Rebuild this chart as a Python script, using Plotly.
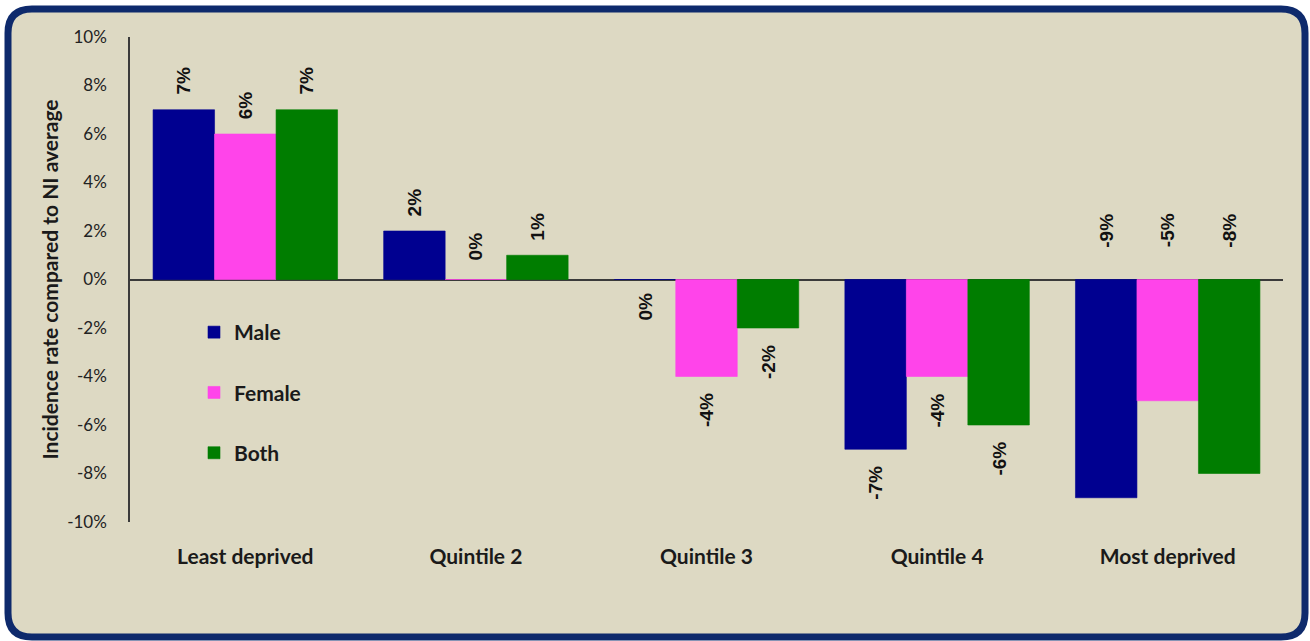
import plotly.graph_objects as go

# Incidence rate relative to the NI average, by deprivation quintile (%)
categories = ["Least deprived", "Quintile 2", "Quintile 3", "Quintile 4", "Most deprived"]
male = [7, 2, 0, -7, -9]
female = [6, 0, -4, -4, -5]
both = [7, 1, -2, -6, -8]
series_names = ["Male", "Female", "Both"]
series_colors = ["#000090", "#FF44EA", "#007D00"]
y_ticks = [-10, -8, -6, -4, -2, 0, 2, 4, 6, 8, 10]
y_tick_text = [f"{v}%" for v in y_ticks]

W, H = 1310, 641
M_L, M_R, M_T, M_B = 130, 27, 37, 119
PLOT_W, PLOT_H = W - M_L - M_R, H - M_T - M_B
Y_MIN, Y_MAX = -10, 10
BARGAP = 0.2
BG = "#DDD9C3"
BORDER = "#0E2A6C"
TEXT = "#1a1a1a"

series = [male, female, both]
n_series = len(series)
bar_w = (1 - BARGAP) / n_series
x_idx = list(range(len(categories)))

fig = go.Figure()
for name, vals, col in zip(series_names, series, series_colors):
    fig.add_trace(go.Bar(
        x=x_idx, y=vals, name=name, legendgroup=name,
        marker=dict(color=col, line=dict(color=col, width=0.6)),
        hoverinfo="skip",
    ))

# Rotated value labels: outside the bar end; when a group's labels cannot fit
# under its bars, the whole group is labelled above the zero line instead.
px_per_unit = PLOT_H / (Y_MAX - Y_MIN)
label_span = 52 / px_per_unit
annotations = []
for ci in x_idx:
    group = [s[ci] for s in series]
    lift = any(v < 0 and v - label_span < Y_MIN for v in group)
    direction = sum(group)
    for si, s in enumerate(series):
        v = s[ci]
        xc = ci - (1 - BARGAP) / 2 + bar_w * (si + 0.5)
        if lift:
            y, anchor, shift = 0, "bottom", 31
        elif v > 0:
            y, anchor, shift = v, "bottom", 14
        elif v < 0:
            y, anchor, shift = v, "top", -16
        elif direction >= 0:
            y, anchor, shift = 0, "bottom", 18
        else:
            y, anchor, shift = 0, "top", -12
        annotations.append(dict(
            x=xc, y=y, xref="x", yref="y", text=f"{v:.0f}%", showarrow=False,
            textangle=-90, yanchor=anchor, xanchor="center", yshift=shift,
            font=dict(family="Liberation Sans", size=19, color="#111111", weight="bold"),
            borderpad=0,
        ))


def px_x(px):
    return (px - M_L) / PLOT_W


def px_y(py):
    return (H - M_B - py) / PLOT_H


# Rounded frame around the whole chart
x0, y0, x1, y1, r = 8, 9, 1305, 637, 24
frame = (
    f"M {px_x(x0 + r)},{px_y(y0)} L {px_x(x1 - r)},{px_y(y0)} "
    f"Q {px_x(x1)},{px_y(y0)} {px_x(x1)},{px_y(y0 + r)} "
    f"L {px_x(x1)},{px_y(y1 - r)} "
    f"Q {px_x(x1)},{px_y(y1)} {px_x(x1 - r)},{px_y(y1)} "
    f"L {px_x(x0 + r)},{px_y(y1)} "
    f"Q {px_x(x0)},{px_y(y1)} {px_x(x0)},{px_y(y1 - r)} "
    f"L {px_x(x0)},{px_y(y0 + r)} "
    f"Q {px_x(x0)},{px_y(y0)} {px_x(x0 + r)},{px_y(y0)} Z"
)

fig.update_layout(
    width=W, height=H,
    margin=dict(l=M_L, r=M_R, t=M_T, b=M_B, pad=0),
    paper_bgcolor="white", plot_bgcolor="rgba(0,0,0,0)",
    barmode="group", bargap=BARGAP, bargroupgap=0,
    font=dict(family="Lato", color=TEXT),
    shapes=[dict(type="path", path=frame, xref="paper", yref="paper",
                 fillcolor=BG, line=dict(color=BORDER, width=7), layer="below")],
    annotations=annotations,
    showlegend=True,
    legend=dict(
        x=px_x(194), y=px_y(312), xanchor="left", yanchor="top",
        bgcolor="rgba(0,0,0,0)", borderwidth=0,
        font=dict(family="Lato", size=21, color=TEXT, weight="bold"),
        tracegroupgap=30, itemwidth=30, traceorder="grouped",
    ),
    xaxis=dict(
        range=[-0.5, len(categories) - 0.5], tickvals=x_idx, ticktext=categories,
        showline=False, showgrid=False, zeroline=False, ticks="",
        ticklabelstandoff=20,
        tickfont=dict(family="Lato", size=21, color=TEXT, weight="bold"),
    ),
    yaxis=dict(
        range=[Y_MIN, Y_MAX], tickvals=y_ticks, ticktext=y_tick_text,
        showgrid=False, showline=True, linecolor="#3a3a3a", linewidth=1.5,
        zeroline=True, zerolinecolor="#3a3a3a", zerolinewidth=1.5,
        ticks="", ticklabelstandoff=18,
        tickfont=dict(family="Lato", size=17, color="#222222"),
        title=dict(text="Incidence rate compared to NI average", standoff=3,
                   font=dict(family="Lato", size=21, color=TEXT, weight="bold")),
    ),
)

fig.write_html("out.html")
